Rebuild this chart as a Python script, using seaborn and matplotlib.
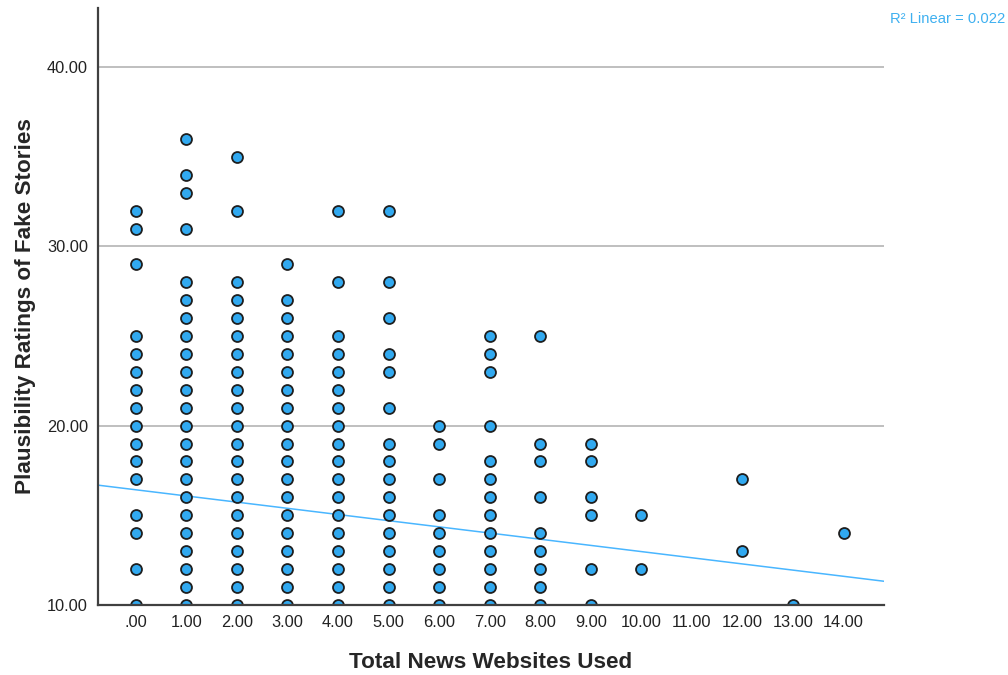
import numpy as np
import pandas as pd
import matplotlib
matplotlib.use("Agg")
import matplotlib.pyplot as plt
import seaborn as sns

# Data: plausibility ratings seen at each number of news websites used
sites = [0, 1, 2, 3, 4, 5, 6, 7, 8, 9, 10, 12, 13, 14]
ratings = [
    [32, 31, 29, 25, 24, 23, 22, 21, 20, 19, 18, 17, 15, 14, 12, 10],
    [36, 34, 33, 31, 28, 27, 26, 25, 24, 23, 22, 21, 20, 19, 18, 17, 16, 15, 14, 13, 12, 11, 10],
    [35, 32, 28, 27, 26, 25, 24, 23, 22, 21, 20, 19, 18, 17, 16, 15, 14, 13, 12, 11, 10],
    [29, 27, 26, 25, 24, 23, 22, 21, 20, 19, 18, 17, 16, 15, 14, 13, 12, 11, 10],
    [32, 28, 25, 24, 23, 22, 21, 20, 19, 18, 17, 16, 15, 14, 13, 12, 11, 10],
    [32, 28, 26, 24, 23, 21, 19, 18, 17, 16, 15, 14, 13, 12, 11, 10],
    [20, 19, 17, 15, 14, 13, 12, 11, 10],
    [25, 24, 23, 20, 18, 17, 16, 15, 14, 13, 12, 11, 10],
    [25, 19, 18, 16, 14, 13, 12, 11, 10],
    [19, 18, 16, 15, 12, 10],
    [15, 12],
    [17, 13],
    [10],
    [14],
]
# linear fit
fit_intercept = 16.42
fit_slope = -0.345
r2_text = "R\u00b2 Linear = 0.022"

x_ticks = list(range(0, 15))
x_labels = [".00"] + [f"{v}.00" for v in x_ticks[1:]]
y_ticks = [10, 20, 30, 40]
y_labels = [f"{v}.00" for v in y_ticks]

df = pd.DataFrame(
    [(s, r) for s, col in zip(sites, ratings) for r in col],
    columns=["sites", "rating"],
)

sns.set_style("white")
plt.rcParams["font.family"] = ["Liberation Sans", "DejaVu Sans"]

fig = plt.figure(figsize=(10.08, 6.75), dpi=100)
ax = fig.add_axes([0.097, 0.104, 0.780, 0.884])

ax.set_xlim(-0.75, 14.8)
ax.set_ylim(10, 43.3)

for v in y_ticks[1:]:
    ax.axhline(v, color="#b4b4b4", lw=1.2, zorder=0)

xs = np.array(ax.get_xlim())
ax.plot(xs, fit_intercept + fit_slope * xs, color="#49b6ff", lw=1.1, zorder=2)

sns.scatterplot(
    data=df, x="sites", y="rating", ax=ax,
    s=62, color="#31a9f0", edgecolor="#1e1e1e", linewidth=1.3, zorder=3,
)

ax.set_xticks(x_ticks)
ax.set_xticklabels(x_labels)
ax.set_yticks(y_ticks)
ax.set_yticklabels(y_labels)
ax.tick_params(axis="both", length=0, labelsize=11.8, colors="#222222", pad=7)

for side in ["top", "right"]:
    ax.spines[side].set_visible(False)
for side in ["left", "bottom"]:
    ax.spines[side].set_color("#404040")
    ax.spines[side].set_linewidth(1.6)
    ax.spines[side].set_zorder(4)

ax.set_xlabel("Total News Websites Used", fontsize=16.2, fontweight="bold", labelpad=16)
ax.set_ylabel("Plausibility Ratings of Fake Stories", fontsize=16.2, fontweight="bold", labelpad=8)

fig.text(0.997, 0.972, r2_text, ha="right", va="center", fontsize=10.6, color="#3fb0f0")

fig.savefig("out.png", dpi=100)
